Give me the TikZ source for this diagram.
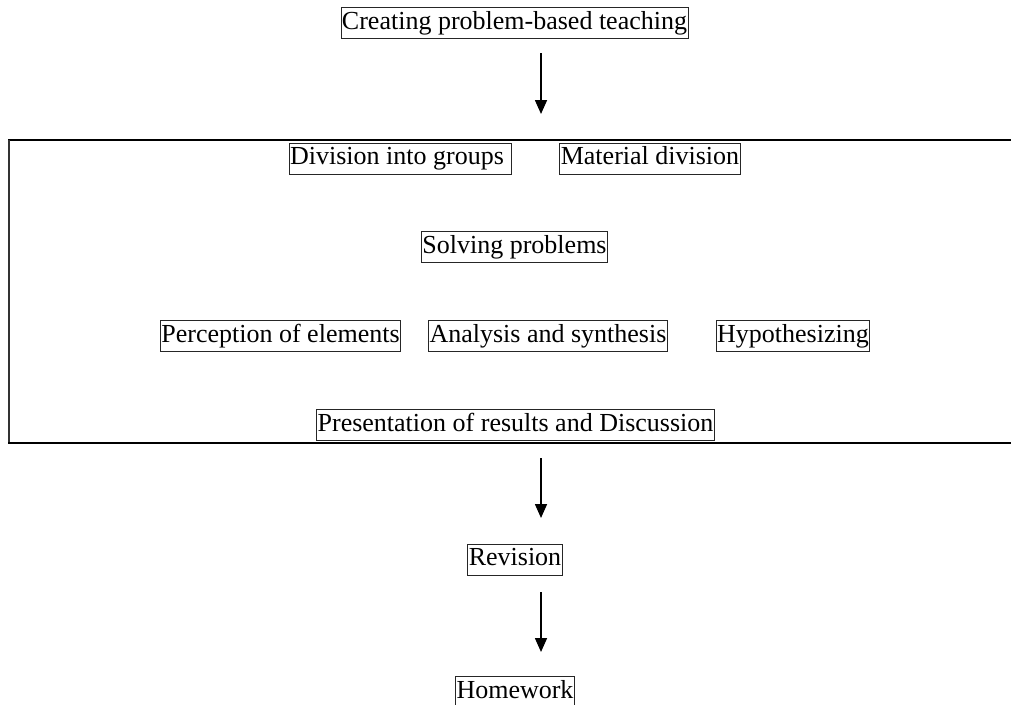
\documentclass[tikz,border=0pt]{standalone}
\usepackage{fontspec}
\setmainfont{Liberation Serif}
\usetikzlibrary{arrows.meta}
\begin{document}
\begin{tikzpicture}[x=1pt,y=-1pt,
  lbl/.style={draw=black!85,line width=0.9pt,inner xsep=1pt,inner ysep=0pt,minimum height=31pt,
    font=\fontsize{26}{28}\selectfont,text height=18pt,text depth=6pt},
  flow/.style={line width=1.6pt,-{Triangle[length=14pt,width=12pt]}},
  frame/.style={line width=2pt,line cap=rect}]
\useasboundingbox (0,0) rectangle (1011,704);
\node[lbl] (create) at (514.5,23) {Creating problem-based teaching};
\node[lbl] (groups) at (400.5,158.5) {Division into groups\hspace{7pt}\null};
\node[lbl] (material) at (650,158.5) {Material division};
\node[lbl] (solving) at (514.5,247) {Solving problems};
\node[lbl] (percep) at (280.5,336) {Perception of elements};
\node[lbl] (analysis) at (548,336) {Analysis and synthesis};
\node[lbl] (hypo) at (793,336) {Hypothesizing};
\node[lbl] (present) at (515.5,425) {Presentation of results and Discussion};
\node[lbl] (revision) at (515,559.5) {Revision};
\node[lbl] (homework) at (515,692) {Homework};
% frame
\coordinate (ftl) at (9,140);
\coordinate (ftr) at (1011,140);
\coordinate (fbl) at (9,443);
\coordinate (fbr) at (1011,443);
\draw[frame] (ftr) -- (ftl);
\draw[line width=1.5pt,black!80] (ftl) -- (fbl);
\draw[frame] (fbl) -- (fbr);
% arrows
\coordinate (a1s) at (541,53);
\coordinate (a1e) at (541,114);
\coordinate (a2s) at (541,458);
\coordinate (a2e) at (541,518);
\coordinate (a3s) at (541,592);
\coordinate (a3e) at (541,652);
\draw[flow] (a1s) -- (a1e);
\draw[flow] (a2s) -- (a2e);
\draw[flow] (a3s) -- (a3e);
\end{tikzpicture}
\end{document}
